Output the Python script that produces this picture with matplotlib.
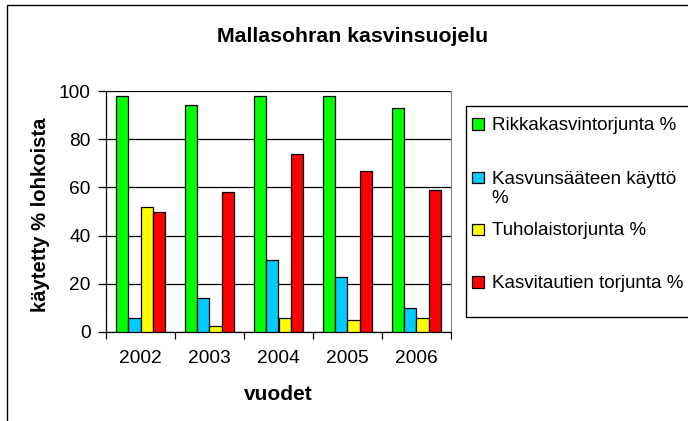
import matplotlib
matplotlib.use("Agg")
import matplotlib.pyplot as plt
from matplotlib.patches import Rectangle
import numpy as np

plt.rcParams['font.family'] = ['Liberation Sans', 'DejaVu Sans']

years = ["2002", "2003", "2004", "2005", "2006"]
series_names = ["Rikkakasvintorjunta %", "Kasvunsääteen käyttö\n%",
                "Tuholaistorjunta %", "Kasvitautien torjunta %"]
rikka = [98, 94, 98, 98, 93]
kasvunsaate = [6, 14, 30, 23, 10]
tuholais = [52, 2.5, 6, 5, 6]
kasvitauti = [50, 58, 74, 67, 59]
colors = ["#00FF00", "#00CCFF", "#FFFF00", "#FF0000"]
title = "Mallasohran kasvinsuojelu"
ylabel = "käytetty % lohkoista"
xlabel = "vuodet"

W, H = 688, 421
fig = plt.figure(figsize=(W / 100, H / 100), dpi=100)

def fx(px):
    return px / W

def fy(py):
    return 1 - py / H

# outer chart border
fig.patches.append(Rectangle((fx(7), fy(H + 5)), fx(W + 10 - 7), fy(5) - fy(H + 5),
                             transform=fig.transFigure, fill=False,
                             edgecolor="black", linewidth=1.0))

left, right, top, bottom = 106, 451, 91, 332
ax = fig.add_axes([fx(left), fy(bottom), fx(right - left), fy(top) - fy(bottom)])

data = [rikka, kasvunsaate, tuholais, kasvitauti]
x = np.arange(len(years))
bw = 0.175
for i, (vals, c) in enumerate(zip(data, colors)):
    ax.bar(x + (i - 1.5) * bw, vals, width=bw, color=c, edgecolor="black",
           linewidth=0.9, zorder=3)

ax.set_xlim(-0.5, len(years) - 0.5)
ax.set_ylim(0, 100)
ax.set_yticks(range(0, 101, 20))
ax.yaxis.grid(True, color="black", linewidth=0.9, zorder=0)
ax.set_xticks(x)
ax.set_xticklabels(years, fontsize=13.8)
ax.tick_params(axis="x", length=0, pad=13)
ax.set_xticks(np.arange(-0.5, len(years), 1.0), minor=True)
ax.tick_params(axis="x", which="minor", length=5, width=0.9, direction="out")
ax.tick_params(axis="y", labelsize=13.8, length=6, width=0.9, direction="out", pad=5)

ax.spines["top"].set_visible(False)
ax.spines["right"].set_color("#808080")
ax.spines["left"].set_linewidth(0.9)
ax.spines["bottom"].set_linewidth(0.9)

fig.text(fx(353), fy(42), title, fontsize=15.3, fontweight="bold",
         ha="center", va="baseline")
fig.text(fx(40.5), fy(215), ylabel, fontsize=14.6, fontweight="bold",
         rotation=90, ha="center", va="center")
fig.text(fx(278), fy(400), xlabel, fontsize=15, fontweight="bold",
         ha="center", va="baseline")

# legend
fig.patches.append(Rectangle((fx(466), fy(317)), fx(W + 10 - 466), fy(106) - fy(317),
                             transform=fig.transFigure, facecolor="white",
                             edgecolor="black", linewidth=1.0))
entry_y = [124, 177.5, 229, 282]
for name, c, ey in zip(series_names, colors, entry_y):
    fig.patches.append(Rectangle((fx(472), fy(ey + 5.5)), fx(12), fy(ey - 5.5) - fy(ey + 5.5),
                                 transform=fig.transFigure, facecolor=c,
                                 edgecolor="black", linewidth=0.9))
    for k, line in enumerate(name.split("\n")):
        fig.text(fx(491.5), fy(ey + 6 + 20 * k), line, fontsize=13.5,
                 ha="left", va="baseline")

fig.savefig("out.png", dpi=100)
